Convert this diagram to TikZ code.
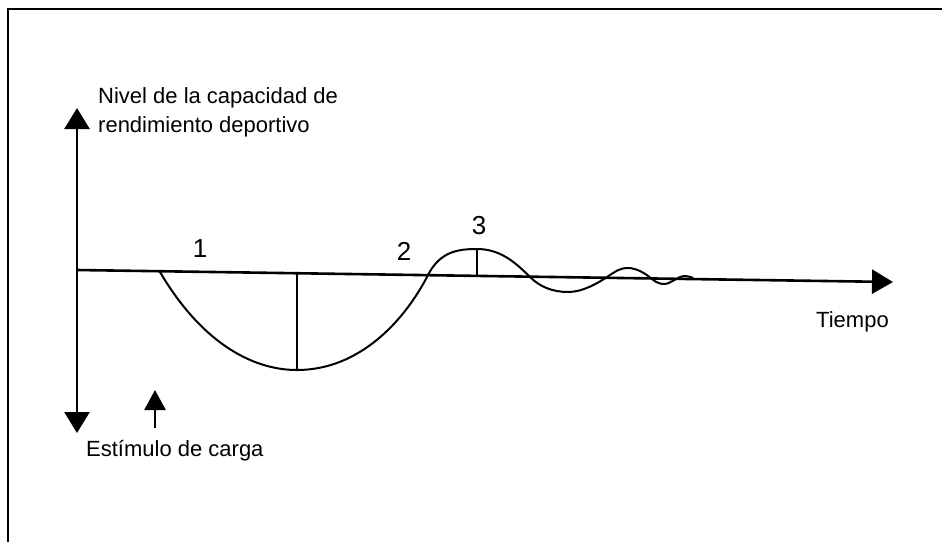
\documentclass[tikz,border=0pt]{standalone}
\usepackage{fontspec}
\setmainfont{Liberation Sans}
\usetikzlibrary{arrows.meta}
\begin{document}
\begin{tikzpicture}[x=1pt,y=-1pt,
  lbl/.style={inner sep=0pt,font=\fontsize{22}{26}\selectfont},
  num/.style={inner sep=0pt,font=\fontsize{26}{30}\selectfont},
  axis/.style={line width=2.6pt},
  curve/.style={line width=2pt,line join=round,line cap=round}]
\useasboundingbox (0,0) rectangle (942,542);
% frame (left and top edges)
\draw[line width=2.2pt] (8,542) -- (8,9) -- (942,9);
% coordinates
\coordinate (ytop) at (77,108);
\coordinate (ybot) at (77,433);
\coordinate (xorig) at (77,270);
\coordinate (xend) at (893,282);
\coordinate (sbot) at (155,428);
\coordinate (stop) at (155,390);
\coordinate (c0) at (160,272);
\coordinate (minA) at (297,370);
\coordinate (axA) at (297,273.2);
\coordinate (cr1) at (428,275);
\coordinate (maxB) at (477,249);
\coordinate (axB) at (477,275.9);
\coordinate (cr2) at (530,277);
\coordinate (minC) at (568,292);
\coordinate (cr3) at (607,277);
\coordinate (maxD) at (628,268);
\coordinate (cr4) at (652,279);
\coordinate (minE) at (665,284);
\coordinate (cr5) at (680,277);
\coordinate (cend) at (693,278);
% axes
\draw[axis,{Triangle[width=25pt,length=21pt]}-{Triangle[width=25pt,length=21pt]}] (ybot) -- (ytop);
\draw[axis,-{Triangle[width=24pt,length=21pt]}] (xorig) -- (xend);
\draw[axis,-{Triangle[width=21pt,length=20pt]}] (sbot) -- (stop);
% curve
\draw[curve] (c0) .. controls (200,340) and (250,370) .. (minA)
  .. controls (360,370) and (405,320) .. (cr1)
  .. controls (440,251.5) and (458,249) .. (maxB)
  .. controls (500,249) and (515,262) .. (cr2)
  .. controls (540,287) and (553,292) .. (minC)
  .. controls (583,292) and (598,283) .. (cr3)
  .. controls (616,271) and (620,268) .. (maxD)
  .. controls (636,268) and (645,273) .. (cr4)
  .. controls (658,284) and (662,284) .. (minE)
  .. controls (669,284) and (675,279) .. (cr5)
  .. controls (684,275.5) and (689,276) .. (cend);
\draw[curve] (axA) -- (minA);
\draw[curve] (axB) -- (maxB);
% labels
\node[lbl,anchor=base west] (n1) at (98,103) {Nivel de la capacidad de};
\node[lbl,anchor=base west] (n2) at (98,132) {rendimiento deportivo};
\node[lbl,anchor=base west] (est) at (86,456) {Estímulo de carga};
\node[lbl,anchor=base west] (tie) at (816,327) {Tiempo};
\node[num,anchor=base] (l1) at (200,257) {1};
\node[num,anchor=base] (l2) at (404,260) {2};
\node[num,anchor=base] (l3) at (479,234) {3};
\end{tikzpicture}
\end{document}
